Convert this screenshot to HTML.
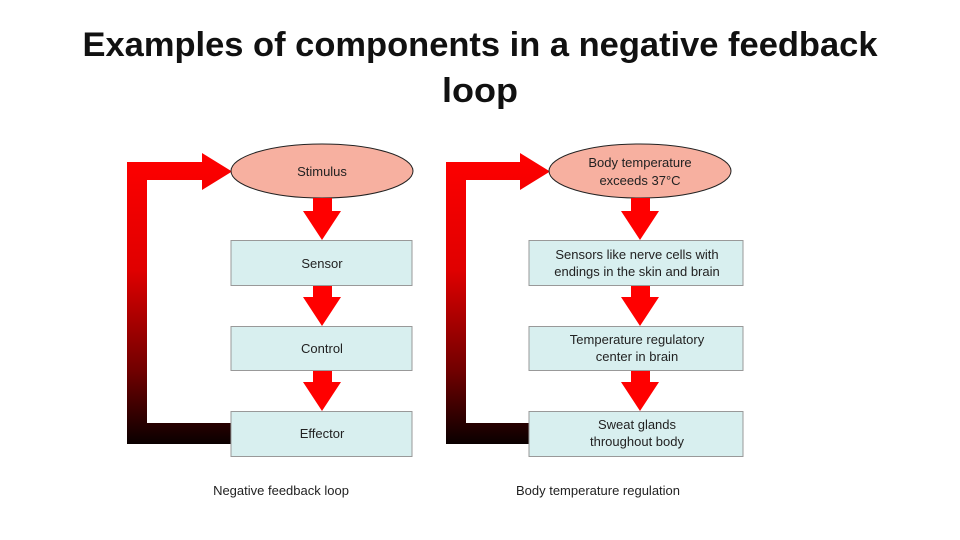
<!DOCTYPE html>
<html><head><meta charset="utf-8"><style>
html,body{margin:0;padding:0;background:#fff;width:960px;height:540px;overflow:hidden}
svg{display:block}
</style></head><body>
<svg width="960" height="540" viewBox="0 0 960 540" xmlns="http://www.w3.org/2000/svg" font-family="Liberation Sans, sans-serif">
<defs>
<linearGradient id="g" x1="0" y1="0" x2="0" y2="1" gradientUnits="objectBoundingBox">
<stop offset="0" stop-color="#ff0000"/><stop offset="0.4" stop-color="#e00000"/><stop offset="0.75" stop-color="#700000"/><stop offset="1" stop-color="#0a0000"/>
</linearGradient>
</defs>
<text x="480" y="56" text-anchor="middle" font-size="34" font-weight="bold" fill="#111" textLength="795" lengthAdjust="spacingAndGlyphs">Examples of components in a negative feedback</text>
<text x="480" y="102" text-anchor="middle" font-size="34" font-weight="bold" fill="#111" textLength="76" lengthAdjust="spacingAndGlyphs">loop</text>

<!-- Left diagram -->
<path d="M127,162 H202 V153 L232,171.5 L202,190 V180 H147 V423 H232 V444 H127 Z" fill="url(#g)"/>
<ellipse cx="322" cy="171" rx="91" ry="27" fill="#f7b0a0" stroke="#222" stroke-width="1"/>
<text x="322" y="176" text-anchor="middle" font-size="13" fill="#222">Stimulus</text>
<g fill="#ff0000">
<path d="M313,198 H332 V211 H341 L322,240 L303,211 H313 Z"/>
<path d="M313,285 H332 V297 H341 L322,326 L303,297 H313 Z"/>
<path d="M313,370 H332 V382 H341 L322,411 L303,382 H313 Z"/>
</g>
<g fill="#d8efef" stroke="#999" stroke-width="1">
<rect x="231" y="240.5" width="181" height="45"/>
<rect x="231" y="326.5" width="181" height="44"/>
<rect x="231" y="411.5" width="181" height="45"/>
</g>
<g font-size="13" fill="#222" text-anchor="middle">
<text x="322" y="268">Sensor</text>
<text x="322" y="353">Control</text>
<text x="322" y="438">Effector</text>
<text x="281" y="495">Negative feedback loop</text>
</g>

<!-- Right diagram -->
<path d="M446,162 H520 V153 L550,171.5 L520,190 V180 H466 V423 H530 V444 H446 Z" fill="url(#g)"/>
<ellipse cx="640" cy="171" rx="91" ry="27" fill="#f7b0a0" stroke="#222" stroke-width="1"/>
<g font-size="13" fill="#222" text-anchor="middle">
<text x="640" y="167">Body temperature</text>
<text x="640" y="185">exceeds 37°C</text>
</g>
<g fill="#ff0000">
<path d="M631,198 H650 V211 H659 L640,240 L621,211 H631 Z"/>
<path d="M631,286 H650 V297 H659 L640,326 L621,297 H631 Z"/>
<path d="M631,370 H650 V382 H659 L640,411 L621,382 H631 Z"/>
</g>
<g fill="#d8efef" stroke="#999" stroke-width="1">
<rect x="529" y="240.5" width="214" height="45"/>
<rect x="529" y="326.5" width="214" height="44"/>
<rect x="529" y="411.5" width="214" height="45"/>
</g>
<g font-size="13" fill="#222" text-anchor="middle">
<text x="637" y="259">Sensors like nerve cells with</text>
<text x="637" y="276">endings in the skin and brain</text>
<text x="637" y="344">Temperature regulatory</text>
<text x="637" y="361">center in brain</text>
<text x="637" y="429">Sweat glands</text>
<text x="637" y="446">throughout body</text>
<text x="598" y="495">Body temperature regulation</text>
</g>
</svg>
</body></html>
